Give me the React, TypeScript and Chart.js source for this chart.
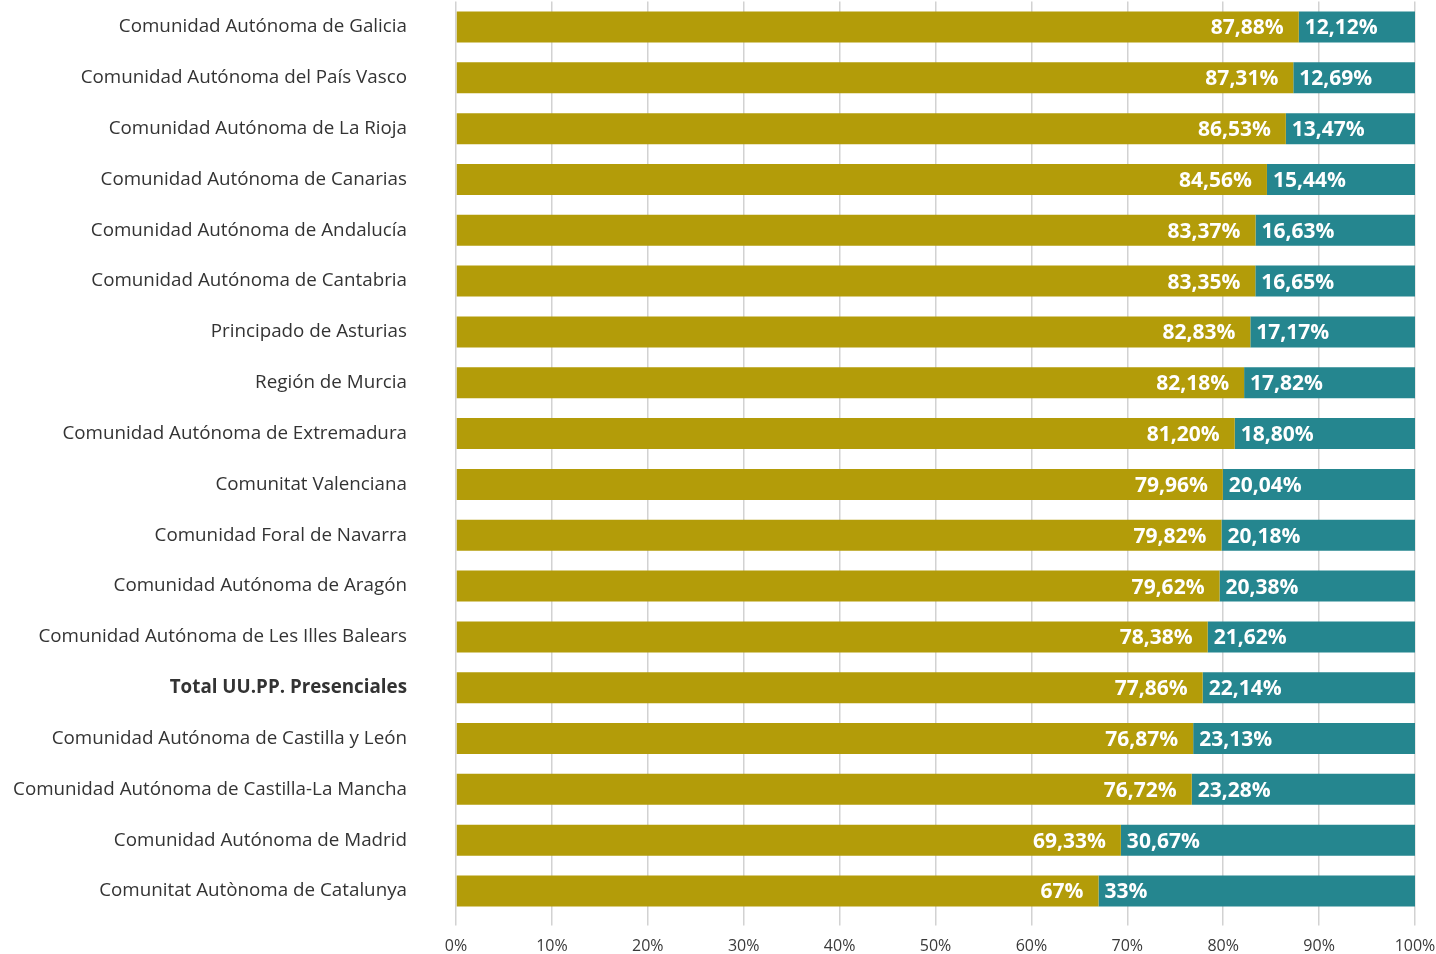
import React, { useEffect, useRef } from "react";
import { Chart, registerables } from "chart.js";

Chart.register(...registerables);

const categories = [
  "Comunidad Autónoma de Galicia",
  "Comunidad Autónoma del País Vasco",
  "Comunidad Autónoma de La Rioja",
  "Comunidad Autónoma de Canarias",
  "Comunidad Autónoma de Andalucía",
  "Comunidad Autónoma de Cantabria",
  "Principado de Asturias",
  "Región de Murcia",
  "Comunidad Autónoma de Extremadura",
  "Comunitat Valenciana",
  "Comunidad Foral de Navarra",
  "Comunidad Autónoma de Aragón",
  "Comunidad Autónoma de Les Illes Balears",
  "Total UU.PP. Presenciales",
  "Comunidad Autónoma de Castilla y León",
  "Comunidad Autónoma de Castilla-La Mancha",
  "Comunidad Autónoma de Madrid",
  "Comunitat Autònoma de Catalunya",
];

const goldValues = [
  87.88, 87.31, 86.53, 84.56, 83.37, 83.35, 82.83, 82.18, 81.2, 79.96, 79.82,
  79.62, 78.38, 77.86, 76.87, 76.72, 69.33, 67,
];

const tealValues = [
  12.12, 12.69, 13.47, 15.44, 16.63, 16.65, 17.17, 17.82, 18.8, 20.04, 20.18,
  20.38, 21.62, 22.14, 23.13, 23.28, 30.67, 33,
];

const xTicks = [0, 10, 20, 30, 40, 50, 60, 70, 80, 90, 100];

const boldCategory = "Total UU.PP. Presenciales";

const GOLD = "#b39c09";
const TEAL = "#25868f";
const FONT = "'Open Sans', 'Noto Sans', sans-serif";

function fmt(v: number): string {
  return Number.isInteger(v) ? `${v}%` : `${v.toFixed(2).replace(".", ",")}%`;
}

const labelPlugin = {
  id: "barLabels",
  afterDatasetsDraw(chart: any) {
    const ctx = chart.ctx;
    ctx.save();
    ctx.font = `bold 21px ${FONT}`;
    ctx.fillStyle = "#ffffff";
    ctx.textBaseline = "middle";
    chart.data.datasets.forEach((ds: any, di: number) => {
      const meta = chart.getDatasetMeta(di);
      meta.data.forEach((bar: any, i: number) => {
        const v = ds.data[i];
        const text = fmt(v);
        if (di === 0) {
          ctx.textAlign = "right";
          ctx.fillText(text, bar.x - 15, bar.y + 1.5);
        } else {
          ctx.textAlign = "left";
          ctx.fillText(text, bar.base + 6, bar.y + 1.5);
        }
      });
    });
    ctx.restore();
  },
};

export default function App() {
  const canvasRef = useRef<HTMLCanvasElement | null>(null);

  useEffect(() => {
    if (!canvasRef.current) return;
    const chart = new Chart(canvasRef.current, {
      type: "bar",
      data: {
        labels: categories,
        datasets: [
          {
            data: goldValues,
            backgroundColor: GOLD,
            borderWidth: 0,
            barPercentage: 0.61,
            categoryPercentage: 1,
          },
          {
            data: tealValues,
            backgroundColor: TEAL,
            borderWidth: 0,
            barPercentage: 0.61,
            categoryPercentage: 1,
          },
        ],
      },
      options: {
        indexAxis: "y",
        animation: false,
        responsive: true,
        maintainAspectRatio: false,
        layout: { padding: { top: 1.6, right: 21, bottom: 0, left: 0 } },
        plugins: {
          legend: { display: false },
          tooltip: { enabled: false },
        },
        scales: {
          x: {
            stacked: true,
            min: 0,
            max: 100,
            afterBuildTicks: (scale: any) => {
              scale.ticks = xTicks.map((v) => ({ value: v }));
            },
            afterFit: (scale: any) => {
              scale.paddingLeft = 0;
              scale.paddingRight = 0;
              scale.height = 37.6;
            },
            grid: {
              color: "#d2d2d2",
              lineWidth: 1.5,
              tickLength: 9,
            },
            border: { display: false },
            ticks: {
              padding: 12.6,
              color: "#3a3a3a",
              font: { family: FONT, size: 16, lineHeight: 1 },
              callback: (v: any) => `${v}%`,
            },
          },
          y: {
            stacked: true,
            grid: { display: false, drawTicks: false, tickLength: 0 },
            border: { display: false },
            afterFit: (scale: any) => {
              scale.width = 456;
              scale.paddingTop = 0;
              scale.paddingBottom = 0;
            },
            ticks: {
              padding: 49,
              color: "#333333",
              font: (c: any) => ({
                family: FONT,
                size: 18.8,
                weight:
                  categories[c.index] === boldCategory ? "bold" : "normal",
              }),
            },
          },
        },
      },
      plugins: [labelPlugin],
    });
    return () => chart.destroy();
  }, []);

  return (
    <div
      style={{
        position: "fixed",
        left: 0,
        top: 0,
        width: 1436,
        height: 954,
        background: "#ffffff",
      }}
    >
      <canvas ref={canvasRef} />
    </div>
  );
}
